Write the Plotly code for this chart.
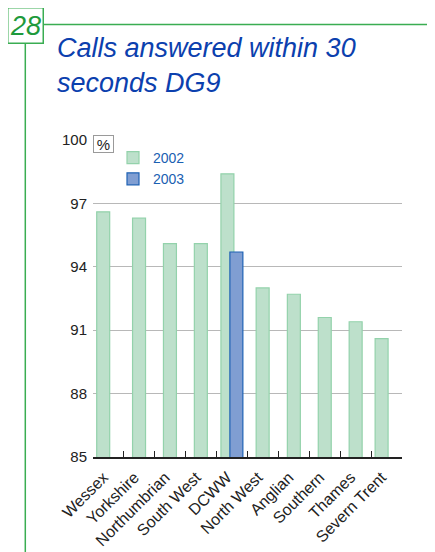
import plotly.graph_objects as go

categories = ["Wessex", "Yorkshire", "Northumbrian", "South West", "DCWW",
              "North West", "Anglian", "Southern", "Thames", "Severn Trent"]
values_2002 = [96.6, 96.3, 95.1, 95.1, 98.4, 93.0, 92.7, 91.6, 91.4, 90.6]
values_2003 = [None, None, None, None, 94.7, None, None, None, None, None]
y_ticks = [85, 88, 91, 94, 97, 100]

# page body adds an 8px margin; work in window pixels and convert
OFF = 8
W, H = 435 - OFF, 552 - OFF
L, R, T, B = 93 - OFF, 402 - OFF, 140 - OFF, 457 - OFF

def px(x):
    return (x - OFF - L) / (R - L)

def py(y):
    return (B - (y - OFF)) / (B - T)

GREEN = "#3aad52"
TITLE_BLUE = "#0b40ae"
LEG_BLUE = "#1a60b2"
TXT = "#222222"

fig = go.Figure()
fig.add_trace(go.Bar(
    x=categories, y=values_2002, name="2002",
    width=0.42,
    offset=[-0.38, -0.22, -0.22, -0.22, -0.36, -0.22, -0.21, -0.21, -0.21, -0.37],
    marker=dict(color="#bde0cb", line=dict(color="#93d2ab", width=1.2)),
    base=0,
))
fig.add_trace(go.Bar(
    x=categories, y=values_2003, name="2003",
    width=0.42, offset=-0.07,
    marker=dict(color="#809ed2", line=dict(color="#1f62b4", width=1.2)),
    base=0,
))

fig.update_layout(
    width=W, height=H,
    margin=dict(l=L, r=W - R, t=T, b=H - B, pad=0, autoexpand=False),
    paper_bgcolor="white", plot_bgcolor="white",
    barmode="overlay",
    font=dict(family="Liberation Sans, Arial, sans-serif", color=TXT, size=15),
    showlegend=True,
    legend=dict(x=px(113), y=py(142), xanchor="left", yanchor="top",
                bgcolor="rgba(0,0,0,0)", font=dict(size=14, color=LEG_BLUE),
                tracegroupgap=0, itemwidth=30),
    xaxis=dict(
        type="category", showgrid=False, showline=True, linecolor="#222",
        linewidth=1.5, ticks="inside", ticklen=6, tickcolor="#222",
        tickwidth=1.2, tickson="boundaries", tickangle=-45, automargin=False,
        tickfont=dict(size=16, color=TXT), zeroline=False, ticklabelshift=-5,
        ticklabelstandoff=3,
    ),
    yaxis=dict(
        range=[85, 100], tickvals=y_ticks, showgrid=True, automargin=False,
        gridcolor="#b8b8b8", gridwidth=1.2, showline=False, zeroline=False,
        ticks="", tickfont=dict(size=15, color=TXT), ticklabelstandoff=5,
    ),
)

# "%" unit box
fig.add_annotation(xref="paper", yref="paper", x=px(93.3), y=py(143.7),
                   xanchor="left", yanchor="middle", text="%", showarrow=False,
                   font=dict(size=15, color=TXT), bordercolor="#9a9a9a",
                   borderwidth=1, borderpad=0, bgcolor="white", width=19, height=16)

# Title
fig.add_annotation(xref="paper", yref="paper", x=px(55), y=py(31),
                   xanchor="left", yanchor="top", align="left", showarrow=False,
                   text="<i>Calls answered within 30<br>seconds DG9</i>",
                   font=dict(size=27, color=TITLE_BLUE))

# Page number box
fig.add_annotation(xref="paper", yref="paper", x=px(25), y=py(25),
                   xanchor="center", yanchor="middle", showarrow=False,
                   text="<i>28</i>", font=dict(size=27, color="#1e9a3c"),
                   bordercolor=GREEN, borderwidth=1.5, borderpad=0,
                   width=34, height=34, bgcolor="white")

# Green rules
fig.add_shape(type="line", xref="paper", yref="paper", x0=px(43), x1=px(440),
              y0=py(24.5), y1=py(24.5), line=dict(color=GREEN, width=1.5))
fig.add_shape(type="line", xref="paper", yref="paper", x0=px(25.3), x1=px(25.3),
              y0=py(560), y1=py(43), line=dict(color=GREEN, width=1.5))

fig.write_html("out.html")
